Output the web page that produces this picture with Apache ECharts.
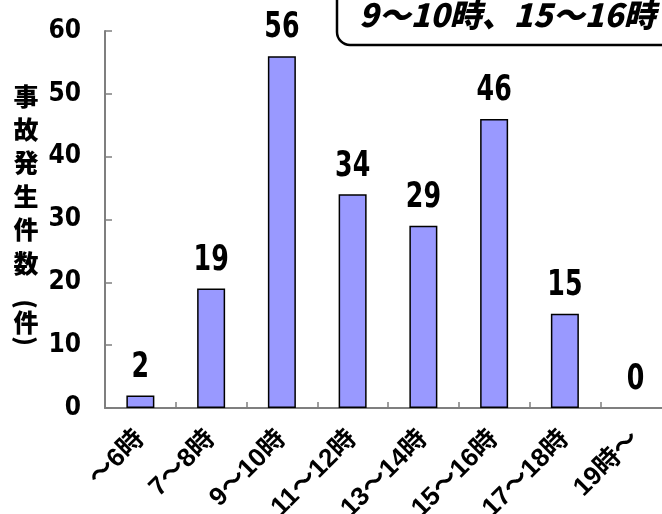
<!DOCTYPE html>
<html>
<head>
<meta charset="utf-8">
<style>
  html, body { margin: 0; padding: 0; background: #ffffff; }
  #chart { width: 662px; height: 514px; }
</style>
<script src="https://cdn.jsdelivr.net/npm/echarts@6/dist/echarts.min.js"></script>
</head>
<body>
<div id="chart"></div>
<script>
const categories = ['～6時', '7～8時', '9～10時', '11～12時', '13～14時', '15～16時', '17～18時', '19時～'];
const accidentCounts = [2, 19, 56, 34, 29, 46, 15, 0];
const yTicks = { min: 0, max: 60, interval: 10 };
const yAxisTitleChars = ['事', '故', '発', '生', '件', '数'];
const yAxisUnit = ['(', '件', ')'];
const calloutText = '9～10時、15～16時';

const numFont = "'DejaVu Sans Condensed', 'Liberation Sans Narrow', sans-serif";
const jpFont = "'Noto Sans CJK JP', 'Noto Sans', sans-serif";
const labelFont = "'Liberation Sans', 'Noto Sans CJK JP', sans-serif";

const titleX = 26;
const titleGraphics = yAxisTitleChars.map((c, i) => ({
  type: 'text', x: titleX, y: 96 + i * 33.4,
  style: { text: c, font: '900 25px ' + jpFont, fill: '#000', align: 'center', verticalAlign: 'middle' }
}));
const unitY = [302, 322, 343];
yAxisUnit.forEach((c, i) => {
  const isParen = c !== '件';
  titleGraphics.push({
    type: 'text', x: titleX, y: unitY[i] + (isParen ? (i === 0 ? 2 : -2) : 0),
    rotation: isParen ? -Math.PI / 2 : 0,
    style: {
      text: c,
      font: (isParen ? '900 24px ' : '900 25px ') + jpFont,
      fill: '#000', align: 'center', verticalAlign: 'middle'
    }
  });
});

const chart = echarts.init(document.getElementById('chart'), null, { renderer: 'canvas' });
chart.setOption({
  animation: false,
  backgroundColor: '#ffffff',
  grid: { left: 105, top: 31, width: 566, height: 377, containLabel: false, outerBoundsMode: 'none' },
  xAxis: {
    type: 'category',
    data: categories,
    boundaryGap: true,
    axisLine: { show: true, lineStyle: { color: '#7f7f7f', width: 2 } },
    axisTick: { show: true, inside: true, length: 6, interval: 0, lineStyle: { color: '#7f7f7f', width: 1.5 } },
    axisLabel: {
      interval: 0, rotate: 45, margin: 27,
      color: '#000', fontSize: 26, fontWeight: 'bold', fontFamily: labelFont
    },
    splitLine: { show: false }
  },
  yAxis: {
    type: 'value',
    min: yTicks.min, max: yTicks.max, interval: yTicks.interval,
    axisLine: { show: true, lineStyle: { color: '#7f7f7f', width: 2 } },
    axisTick: { show: true, inside: true, length: 7, lineStyle: { color: '#7f7f7f', width: 1.5 } },
    axisLabel: { margin: 24, color: '#000', fontSize: 26, fontWeight: 'bold', fontFamily: numFont },
    splitLine: { show: false }
  },
  series: [
    {
      type: 'bar',
      data: accidentCounts.map(v => v === 0 ? { value: v, itemStyle: { borderWidth: 0 } } : v),
      barWidth: 28,
      itemStyle: { color: '#9999ff', borderColor: '#000', borderWidth: 1.5 },
      label: { show: false }
    },
    {
      type: 'custom',
      data: accidentCounts.map((v, i) => [i, v]),
      z: 5,
      renderItem: function (params, api) {
        const pt = api.coord([api.value(0), api.value(1)]);
        return {
          type: 'text',
          x: pt[0],
          y: pt[1] - 10,
          scaleX: 0.78,
          style: {
            text: String(api.value(1)),
            font: 'bold 36px ' + numFont,
            fill: '#000',
            align: 'center',
            verticalAlign: 'bottom'
          }
        };
      }
    }
  ],
  graphic: titleGraphics.concat([
    {
      type: 'rect',
      shape: { x: 337, y: -30, width: 400, height: 75, r: 13 },
      style: { fill: '#fff', stroke: '#000', lineWidth: 2.5 },
      z: 10
    },
    {
      type: 'text',
      x: 359, y: 15,
      style: {
        text: calloutText,
        fill: '#000',
        font: "italic 900 32px " + jpFont,
        verticalAlign: 'middle',
        align: 'left'
      },
      z: 11
    }
  ])
});
</script>
</body>
</html>
